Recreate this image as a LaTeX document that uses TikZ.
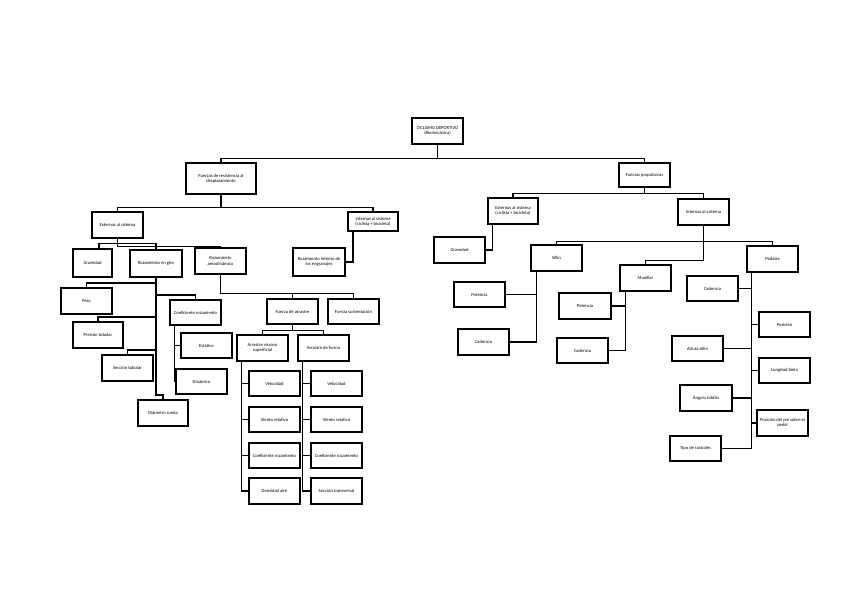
\documentclass[tikz,border=0pt]{standalone}
\usepackage{fontspec}
\setmainfont{Carlito}
\pgfdeclarelayer{bg}
\pgfdeclarelayer{lines}
\pgfsetlayers{bg,lines,main}
\newcommand\bbox[6]{%
  \pgfmathsetmacro\bcx{(#2+#4)/2}\pgfmathsetmacro\bcy{(#3+#5)/2}%
  \pgfmathsetmacro\bww{#4-#2}\pgfmathsetmacro\bhh{#5-#3}%
  \node[box,minimum width=\bww pt,minimum height=\bhh pt] (#1) at (\bcx,\bcy) {#6};}
\begin{document}
\begin{tikzpicture}[x=1pt,y=-1pt,
  box/.style={draw, line width=1.1pt, fill=white, inner sep=0pt, align=center,
    font=\fontsize{4.6}{5.4}\selectfont},
  conn/.style={line width=1.1pt}]
\begin{pgfonlayer}{bg}
\fill[white] (0,0) rectangle (848,599);
\end{pgfonlayer}
\useasboundingbox (0,0) rectangle (848,599);
% boxes
\bbox{root}{412}{118}{463}{144}{CICLISMO DEPORTIVO\\(Biomecánica)}
\bbox{fr}{186}{163}{256}{194}{Fuerzas de resistencia al\\desplazamiento}
\bbox{fp}{619}{163}{670}{187}{Fuerzas propulsoras}
\bbox{ext}{92}{212}{143}{238}{Externas al sistema}
\bbox{intl}{348}{212}{398}{231}{Internas al sistema\\(ciclista + bicicleta)}
\bbox{grava}{73}{249}{112}{277}{Gravedad}
\bbox{rgiro}{130}{250}{182}{277}{Rozamiento en giro}
\bbox{raero}{195}{248}{246}{274}{Rozamiento\\aerodinámico}
\bbox{reng}{293}{248}{345}{276}{Rozamiento interno de\\los engranajes}
\bbox{peso}{61}{288}{112}{314}{Peso}
\bbox{ptub}{73}{322}{123}{348}{Presión tubular}
\bbox{stub}{102}{355}{153}{381}{Sección tubular}
\bbox{drue}{138}{400}{188}{426}{Diámetro rueda}
\bbox{coef}{170}{300}{221}{325}{Coeficiente rozamiento}
\bbox{est}{181}{333}{232}{358}{Estático}
\bbox{din}{176}{369}{227}{394}{Dinámico}
\bbox{farr}{267}{299}{318}{324}{Fuerza de arrastre}
\bbox{fsus}{328}{299}{379}{324}{Fuerza sustentación}
\bbox{avis}{237}{335}{288}{361}{Arrastre viscoso\\superficial}
\bbox{afor}{298}{335}{349}{361}{Arrastre de forma}
\bbox{va}{249}{371}{300}{396}{Velocidad}
\bbox{vra}{249}{407}{300}{432}{Viento relativo}
\bbox{ca}{249}{443}{300}{468}{Coeficiente rozamiento}
\bbox{da}{249}{478}{300}{504}{Densidad aire}
\bbox{vb}{311}{371}{362}{396}{Velocidad}
\bbox{vrb}{311}{407}{362}{432}{Viento relativo}
\bbox{cb}{311}{443}{362}{468}{Coeficiente rozamiento}
\bbox{st}{311}{478}{362}{504}{Sección transversal}
\bbox{extr}{488}{198}{538}{224}{Externas al sistema\\(ciclista + bicicleta)}
\bbox{gravb}{434}{237}{485}{263}{Gravedad}
\bbox{intr}{678}{199}{729}{225}{Internas al sistema}
\bbox{sil}{531}{245}{582}{271}{Sillín}
\bbox{man}{620}{265}{671}{291}{Manillar}
\bbox{ped}{747}{246}{798}{272}{Pedales}
\bbox{pota}{454}{282}{505}{307}{Potencia}
\bbox{cada}{458}{329}{509}{355}{Cadencia}
\bbox{potb}{559}{293}{611}{319}{Potencia}
\bbox{cadb}{557}{338}{608}{363}{Cadencia}
\bbox{cadc}{687}{276}{738}{301}{Cadencia}
\bbox{pos}{759}{312}{810}{337}{Posición}
\bbox{alt}{672}{336}{723}{361}{Altura sillín}
\bbox{lon}{759}{358}{810}{383}{Longitud biela}
\bbox{ang}{680}{385}{732}{411}{Ángulo tobillo}
\bbox{ppie}{757}{410}{808}{436}{Posición del pie sobre el\\pedal}
\bbox{tipo}{670}{436}{721}{461}{Tipo de rastrales}
% connectors (behind the boxes)
\begin{pgfonlayer}{lines}
\begin{scope}[conn]
\draw (root.south) -- ++(0,14) -| (fr.north);
\draw (root.south) -- ++(0,14) -| (fp.north);
\draw (fr.south) -- ++(0,13) -| (ext.north);
\draw (fr.south) -- ++(0,13) -| (intl.north);
\draw (fp.south) -- ++(0,6) -| (extr.north);
\draw (fp.south) -- ++(0,6) -| (intr.north);
\draw (ext.south) -- ++(0,4.5) -| ([xshift=6.5pt]grava.north);
\draw (ext.south) -- ++(0,4.5) -| (rgiro.north);
\draw (ext.south) -- ++(0,7.5) -| (raero.north);
\draw ([xshift=-20pt]intl.south) |- (reng.east);
\draw (raero.south) -- ++(0,19) -| (farr.north);
\draw (raero.south) -- ++(0,19) -| (fsus.north);
\draw (farr.south) -- ++(0,6) -| (avis.north);
\draw (farr.south) -- ++(0,6) -| (afor.north);
\draw (rgiro.south) -- (rgiro.south |- 0,283) -| (peso.north);
\draw (rgiro.south) -- (rgiro.south |- 0,317) -| (ptub.north);
\draw (rgiro.south) -- (rgiro.south |- 0,350) -| (stub.north);
\draw (rgiro.south) -- (rgiro.south |- 0,395) -| (drue.north);
\draw (rgiro.south) -- (rgiro.south |- 0,295) -| (coef.north);
\draw ([xshift=5pt]coef.south west) |- (est.west);
\draw ([xshift=5pt]coef.south west) |- (din.west);
\foreach \c in {va,vra,ca,da} \draw ([xshift=5pt]avis.south west) |- (\c.west);
\foreach \c in {vb,vrb,cb,st} \draw ([xshift=5pt]afor.south west) |- (\c.west);
\draw ([xshift=5pt]extr.south west) |- (gravb.east);
\draw (intr.south) -- ++(0,16) -| (sil.north);
\draw (intr.south) -- ++(0,16) -| (ped.north);
\draw (intr.south) -- ++(0,35) -| (man.north);
\draw ([xshift=6pt]sil.south west) |- (pota.east);
\draw ([xshift=6pt]sil.south west) |- (cada.east);
\draw ([xshift=6pt]man.south west) |- (potb.east);
\draw ([xshift=6pt]man.south west) |- (cadb.east);
\foreach \c in {cadc,alt,ang,tipo} \draw ([xshift=5pt]ped.south west) |- (\c.east);
\foreach \c in {pos,lon,ppie} \draw ([xshift=5pt]ped.south west) |- (\c.west);
\end{scope}
\end{pgfonlayer}
\end{tikzpicture}
\end{document}
